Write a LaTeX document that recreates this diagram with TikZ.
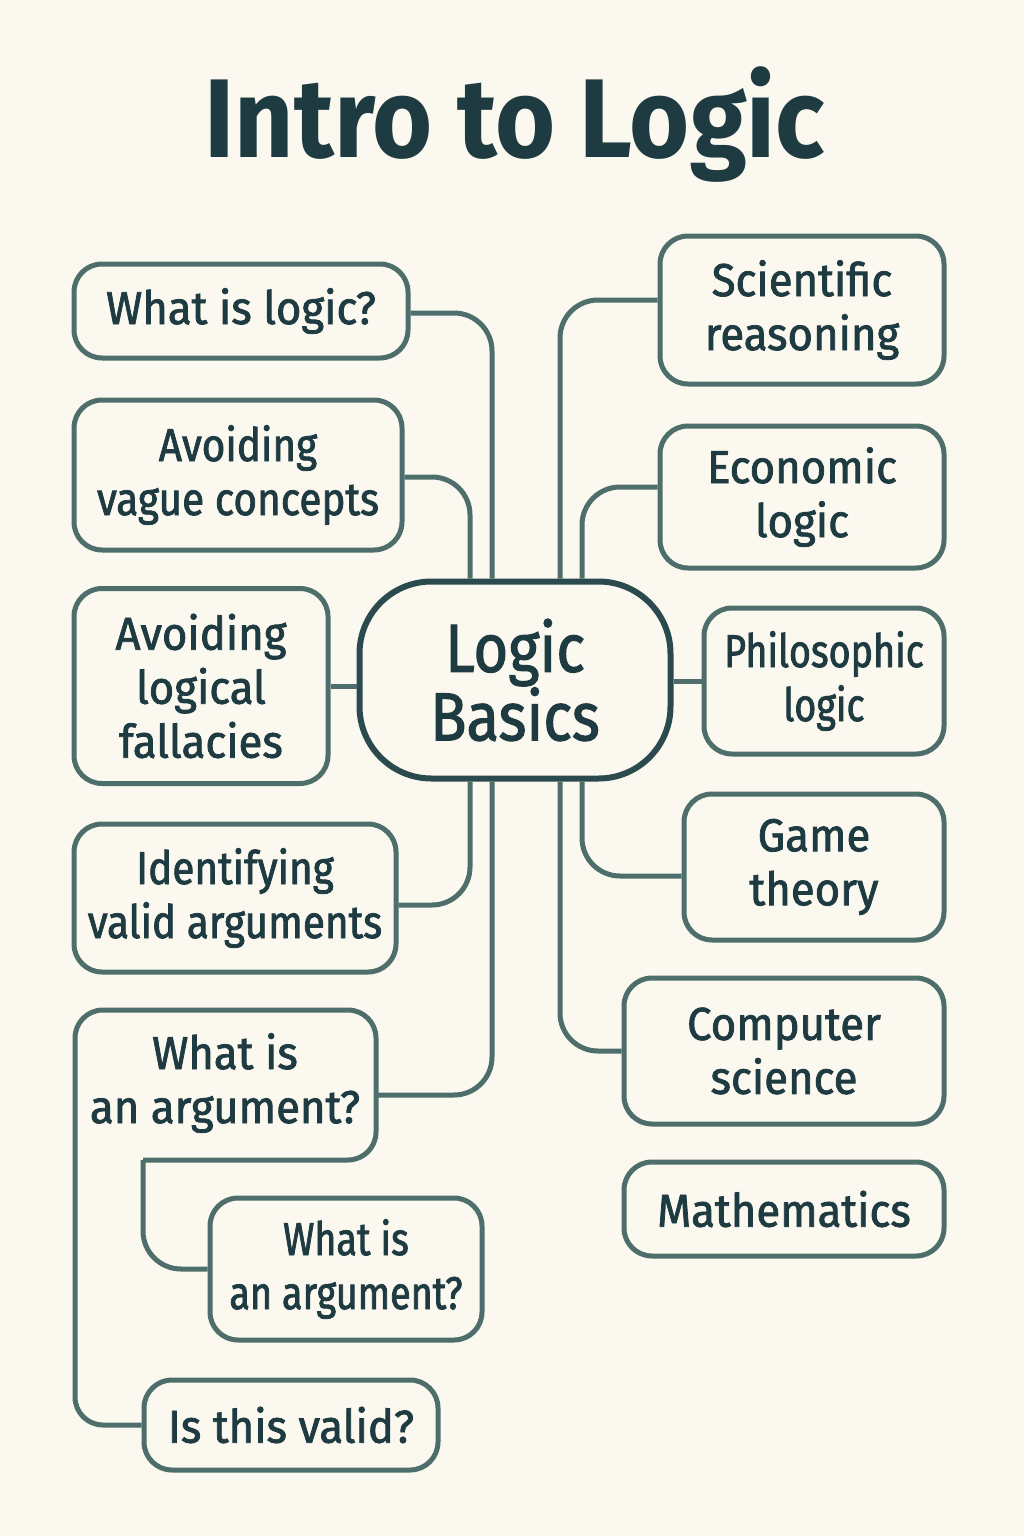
\documentclass[tikz,border=0pt]{standalone}
\usepackage{fontspec}
\setmainfont{Fira Sans}
\newfontfamily\titlefont{Fira Sans}[UprightFont=* Bold, FakeStretch=0.92]
\newfontfamily\nodefont{Fira Sans}[FakeBold=1.7, FakeStretch=0.95]
\newfontfamily\tightfont{Fira Sans}[FakeBold=1.7, FakeStretch=0.88]
\newfontfamily\narrowfont{Fira Sans}[FakeBold=1.7, FakeStretch=0.82]
\newfontfamily\hubfont{Fira Sans}[FakeBold=1.6, FakeStretch=0.88]
\usetikzlibrary{calc}
\definecolor{bg}{HTML}{FBF8EF}
\definecolor{edge}{HTML}{4D6E6B}
\definecolor{ink}{HTML}{1F3B42}
\definecolor{hub}{HTML}{2B4A4E}
\tikzset{
  box/.style={draw=edge, line width=5pt, rounded corners=28pt, fill=bg, text=ink,
    align=center, inner sep=0pt, font=\nodefont\fontsize{46}{54}\selectfont},
  tightbox/.style={box, font=\tightfont\fontsize{46}{54}\selectfont},
  narrowbox/.style={box, font=\narrowfont\fontsize{46}{54}\selectfont},
  hubbox/.style={draw=hub, line width=6pt, rounded corners=72pt, fill=bg, text=ink,
    align=center, inner sep=0pt, font=\hubfont\fontsize{68}{66}\selectfont},
  conn/.style={draw=edge, line width=5pt, rounded corners=38pt},
  plain/.style={text=ink, align=center, inner sep=0pt, font=\nodefont\fontsize{46}{54}\selectfont}
}
\begin{document}
\begin{tikzpicture}[x=1pt,y=-1pt]
\useasboundingbox[fill=bg] (0,0) rectangle (1024,1536);
% title
\node[text={ink}, font=\titlefont\fontsize{112}{112}\selectfont] (title) at (515,125) {Intro to Logic};
% hub
\node[hubbox, minimum width=311pt, minimum height=197pt] (lb) at (515,680) {Logic\\Basics};
% left nodes
\node[box, minimum width=334pt, minimum height=94pt] (wl) at (241,311) {What is logic?};
\node[tightbox, minimum width=328pt, minimum height=150pt] (avc) at (238,475) {Avoiding\\vague concepts};
\node[box, minimum width=254pt, minimum height=195pt] (alf) at (201,686) {Avoiding\\logical\\fallacies};
\node[tightbox, minimum width=322pt, minimum height=148pt] (iva) at (235,898) {Identifying\\valid arguments};
\node[plain] (wia) at (225,1083) {What is\\an argument?};
\node[narrowbox, minimum width=272pt, minimum height=142pt] (wib) at (346,1269) {What is\\an argument?};
\node[box, minimum width=294pt, minimum height=90pt] (itv) at (291,1425) {Is this valid?};
% right nodes
\node[box, minimum width=284pt, minimum height=148pt] (sr) at (802,310) {Scientific\\reasoning};
\node[box, minimum width=284pt, minimum height=142pt] (el) at (802,497) {Economic\\logic};
\node[narrowbox, minimum width=240pt, minimum height=146pt] (pl) at (824,681) {Philosophic\\logic};
\node[box, minimum width=260pt, minimum height=146pt] (gt) at (814,867) {Game\\theory};
\node[box, minimum width=320pt, minimum height=146pt] (cs) at (784,1051) {Computer\\science};
\node[box, minimum width=320pt, minimum height=94pt] (ma) at (784,1209) {Mathematics};
% open outline of the first "What is an argument?" box
\coordinate (wiaA) at (143,1160);
\coordinate (wiaB) at (376,1160);
\coordinate (wiaC) at (376,1010);
\coordinate (wiaD) at (75,1010);
\coordinate (wiaE) at (75,1425);
\coordinate (wiaR) at (376,1095);
\draw[conn, rounded corners=28pt] (wiaA) -- (wiaB) -- (wiaC) -- (wiaD) -- (wiaE) -- (itv.west);
\draw[conn] (wib.west) -| (wiaA);
% connectors to hub
\draw[conn] ([yshift=-2pt]wl.east) -| ([xshift=-23pt]lb.north);
\draw[conn] ([yshift=-2pt]avc.east) -| ([xshift=-45pt]lb.north);
\draw[conn] (alf.east) -- (alf.east -| lb.west);
\draw[conn] ([yshift=-7pt]iva.east) -| ([xshift=-45pt]lb.south);
\draw[conn] (wiaR) -| ([xshift=-23pt]lb.south);
\draw[conn] ([yshift=10pt]sr.west) -| ([xshift=45pt]lb.north);
\draw[conn] ([yshift=10pt]el.west) -| ([xshift=67pt]lb.north);
\draw[conn] (pl.west) -- (pl.west -| lb.east);
\draw[conn] ([yshift=-9pt]gt.west) -| ([xshift=67pt]lb.south);
\draw[conn] (cs.west) -| ([xshift=45pt]lb.south);
\end{tikzpicture}
\end{document}
